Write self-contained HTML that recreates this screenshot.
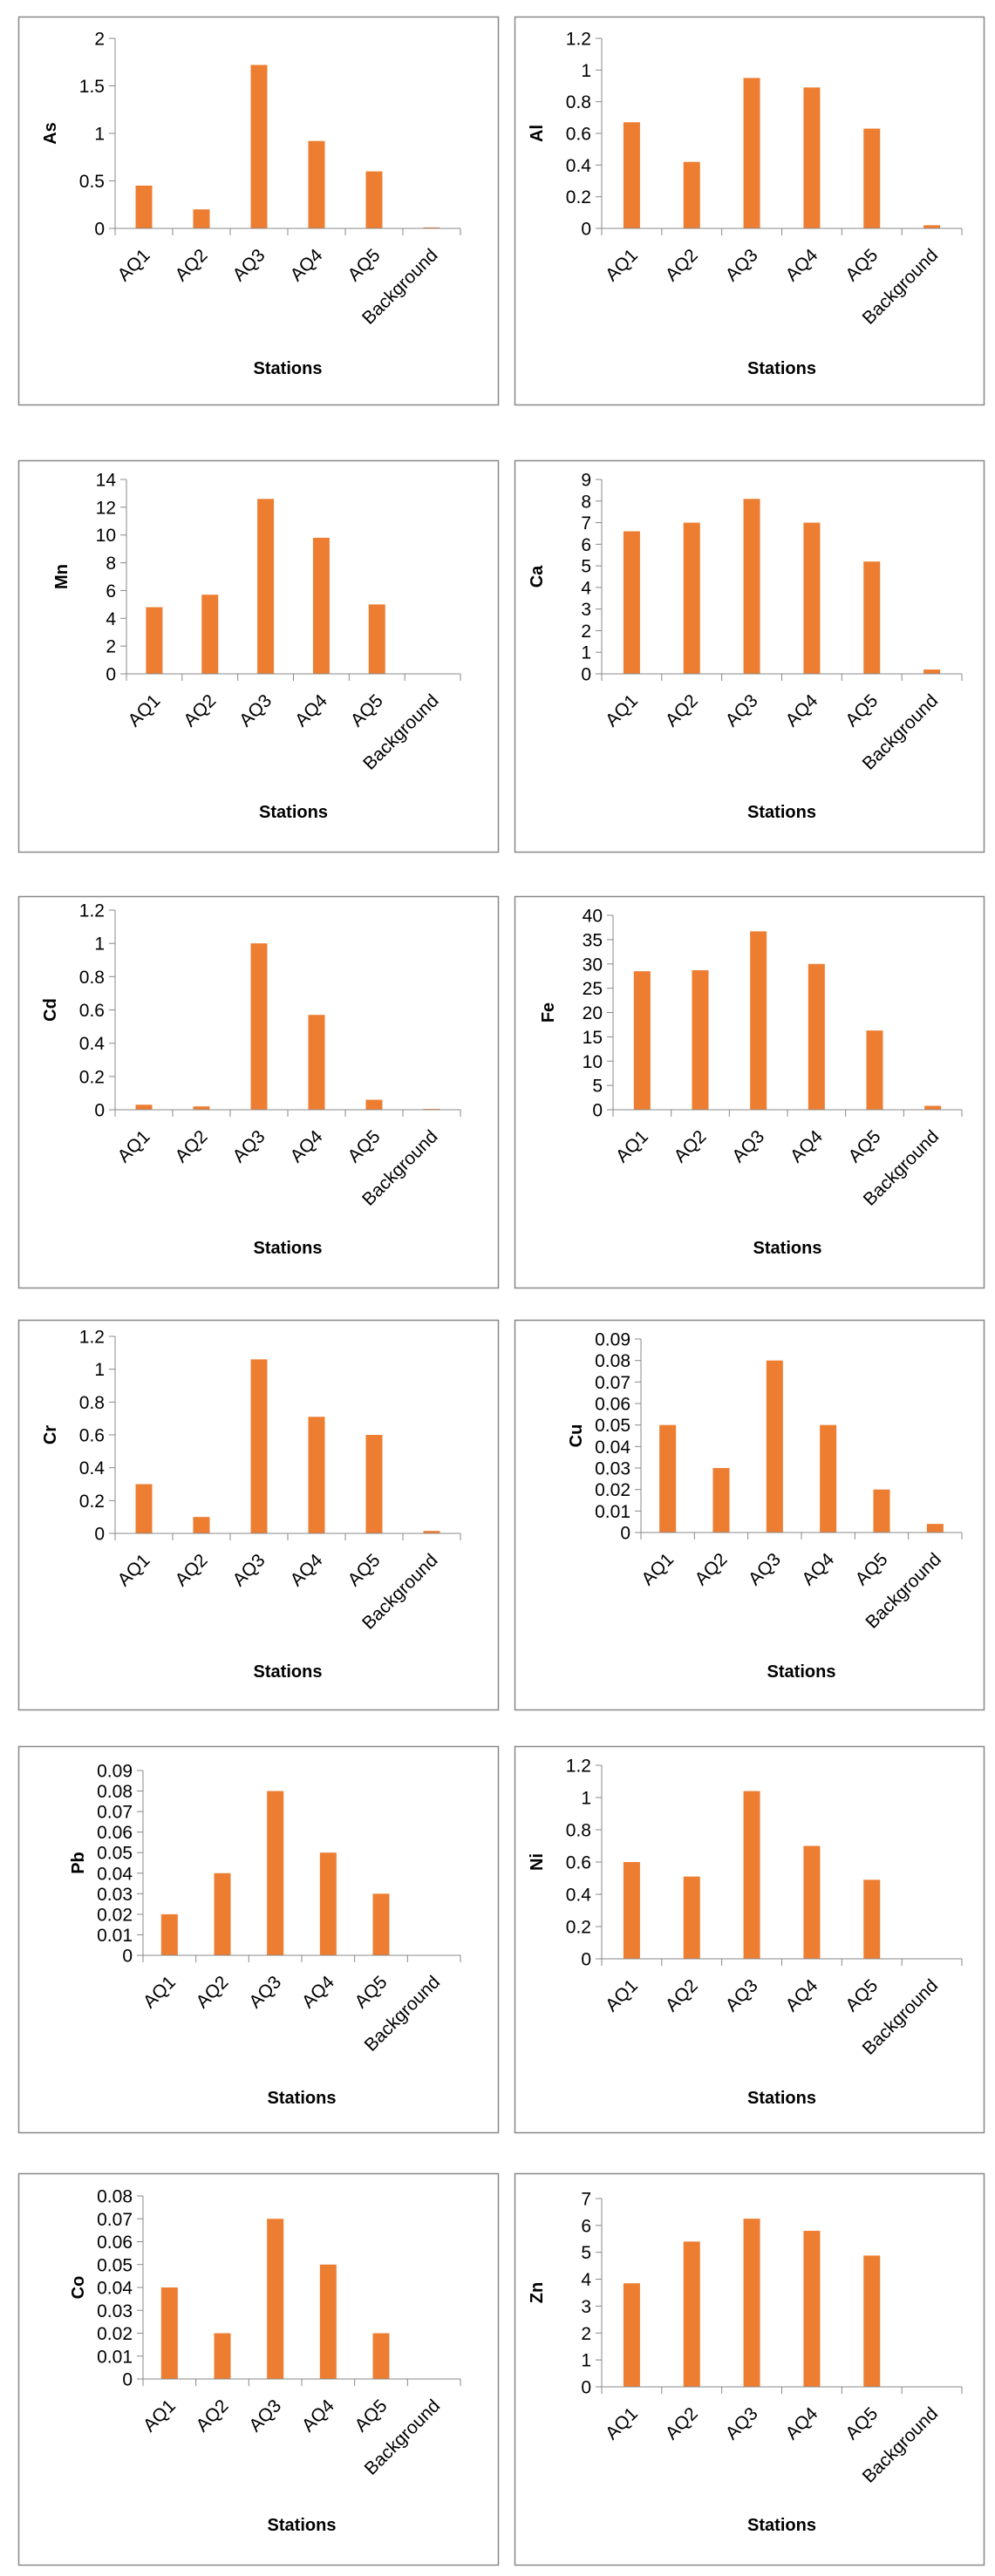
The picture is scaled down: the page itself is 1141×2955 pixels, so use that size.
<!DOCTYPE html>
<html><head><meta charset="utf-8">
<style>
html,body{margin:0;padding:0;background:#fff;}
svg{display:block;font-family:"Liberation Sans",sans-serif;}
</style></head>
<body>
<svg id="root" width="1141" height="2955" viewBox="0 0 1141 2955" xmlns="http://www.w3.org/2000/svg"></svg>
<script>
const categories = ["AQ1","AQ2","AQ3","AQ4","AQ5","Background"];
const elements = ["As","Al","Mn","Ca","Cd","Fe","Cr","Cu","Pb","Ni","Co","Zn"];
const asVals = [0.45,0.2,1.72,0.92,0.6,0.01];
const alVals = [0.67,0.42,0.95,0.89,0.63,0.02];
const mnVals = [4.8,5.7,12.6,9.8,5.0,0];
const caVals = [6.6,7.0,8.1,7.0,5.2,0.2];
const cdVals = [0.03,0.02,1.0,0.57,0.06,0.005];
const feVals = [28.5,28.7,36.7,30,16.3,0.8];
const crVals = [0.3,0.1,1.06,0.71,0.6,0.015];
const cuVals = [0.05,0.03,0.08,0.05,0.02,0.004];
const pbVals = [0.02,0.04,0.08,0.05,0.03,0];
const niVals = [0.6,0.51,1.04,0.7,0.49,0];
const coVals = [0.04,0.02,0.07,0.05,0.02,0];
const znVals = [3.85,5.4,6.25,5.8,4.88,0];
const seriesList = [asVals,alVals,mnVals,caVals,cdVals,feVals,crVals,cuVals,pbVals,niVals,coVals,znVals];
const tickLabelsAs = ["0","0.5","1","1.5","2"];
const tickLabelsAl = ["0","0.2","0.4","0.6","0.8","1","1.2"];
const tickLabelsMn = ["0","2","4","6","8","10","12","14"];
const tickLabelsCa = ["0","1","2","3","4","5","6","7","8","9"];
const tickLabelsCd = ["0","0.2","0.4","0.6","0.8","1","1.2"];
const tickLabelsFe = ["0","5","10","15","20","25","30","35","40"];
const tickLabelsCr = ["0","0.2","0.4","0.6","0.8","1","1.2"];
const tickLabelsCu = ["0","0.01","0.02","0.03","0.04","0.05","0.06","0.07","0.08","0.09"];
const tickLabelsPb = ["0","0.01","0.02","0.03","0.04","0.05","0.06","0.07","0.08","0.09"];
const tickLabelsNi = ["0","0.2","0.4","0.6","0.8","1","1.2"];
const tickLabelsCo = ["0","0.01","0.02","0.03","0.04","0.05","0.06","0.07","0.08"];
const tickLabelsZn = ["0","1","2","3","4","5","6","7"];
const tickList = [tickLabelsAs,tickLabelsAl,tickLabelsMn,tickLabelsCa,tickLabelsCd,tickLabelsFe,tickLabelsCr,tickLabelsCu,tickLabelsPb,tickLabelsNi,tickLabelsCo,tickLabelsZn];

// layout (not data)
const rowTops=[19,528,1028,1514,2003,2493];
const rowH=[445,449,449,447,443,449];
const colX=[21,590];
const colW=[550,538];
const axisOff=[111,100,124,100,111,113,111,145,143,100,143,100];
const plotTop=[25,25,22,22,16,22,19,22,28,22,26,29];
const plotZero=[243,243,245,245,245,245,245,244,240,244,236,245];

const NS="http://www.w3.org/2000/svg";
const root=document.getElementById('root');
function mk(tag,attrs,parent){const e=document.createElementNS(NS,tag);for(const k in attrs)e.setAttribute(k,attrs[k]);parent.appendChild(e);return e;}

elements.forEach((el,i)=>{
  const r=Math.floor(i/2), c=i%2;
  const px=colX[c], py=rowTops[r], pw=colW[c], ph=rowH[r];
  const g=mk('g',{},root);
  
  
  const frame=mk('rect',{x:px+0.5,y:py+0.5,width:pw,height:ph,fill:'#fff',stroke:'#888','stroke-width':1.5},g);
  
  
  const ax=px+axisOff[i], right=px+(c===0?507:513);
  const top=py+plotTop[i], zero=py+plotZero[i];
  const ticks=tickList[i];
  const maxV=parseFloat(ticks[ticks.length-1]);
  const yS=v=>zero-(v/maxV)*(zero-top);
  const catW=(right-ax)/categories.length;
  const xC=k=>ax+catW*(k+0.5);
  const ya=mk('line',{x1:ax,y1:top,x2:ax,y2:zero,stroke:'#888','stroke-width':1},g);
  
  
  ticks.forEach(t=>{
    const v=parseFloat(t), y=yS(v);
    mk('line',{x1:ax-7,y1:y,x2:ax,y2:y,stroke:'#888','stroke-width':1},g);
    const tl=mk('text',{x:ax-12,y:y+7.5,'text-anchor':'end','font-size':21,fill:'#000'},g);
    tl.textContent=t;
    
    
  });
  const vals=seriesList[i];
  vals.forEach((v,k)=>{
    const h=zero-yS(v);
    const b=mk('rect',{x:xC(k)-9.5,y:yS(v),width:19,height:Math.max(h,0),fill:'#ED7D31'},g);
    
    
  });
  const xa=mk('line',{x1:ax,y1:zero,x2:right,y2:zero,stroke:'#888','stroke-width':1},g);
  
  
  for(let k=0;k<=categories.length;k++){
    const x=ax+catW*k;
    mk('line',{x1:x,y1:zero,x2:x,y2:zero+8,stroke:'#888','stroke-width':1},g);
  }
  categories.forEach((cat,k)=>{
    const x=xC(k)+8, y=zero+32;
    const t=mk('text',{x:x,y:y,'text-anchor':'end','font-size':21,fill:'#000',transform:`rotate(-45 ${x} ${y})`},g);
    t.textContent=cat;
    
    
  });
  const xt=mk('text',{x:(ax+right)/2,y:py+410,'text-anchor':'middle','font-size':20,'font-weight':'bold',fill:'#000'},g);
  xt.textContent='Stations';
  
  
  const tx=px+(axisOff[i]-72)+4, ty=(top+zero)/2;
  const yt=mk('text',{x:tx,y:ty,'text-anchor':'middle','font-size':20,'font-weight':'bold',fill:'#000',transform:`rotate(-90 ${tx} ${ty})`},g);
  yt.textContent=el;
  
  
});
</script>
</body></html>
